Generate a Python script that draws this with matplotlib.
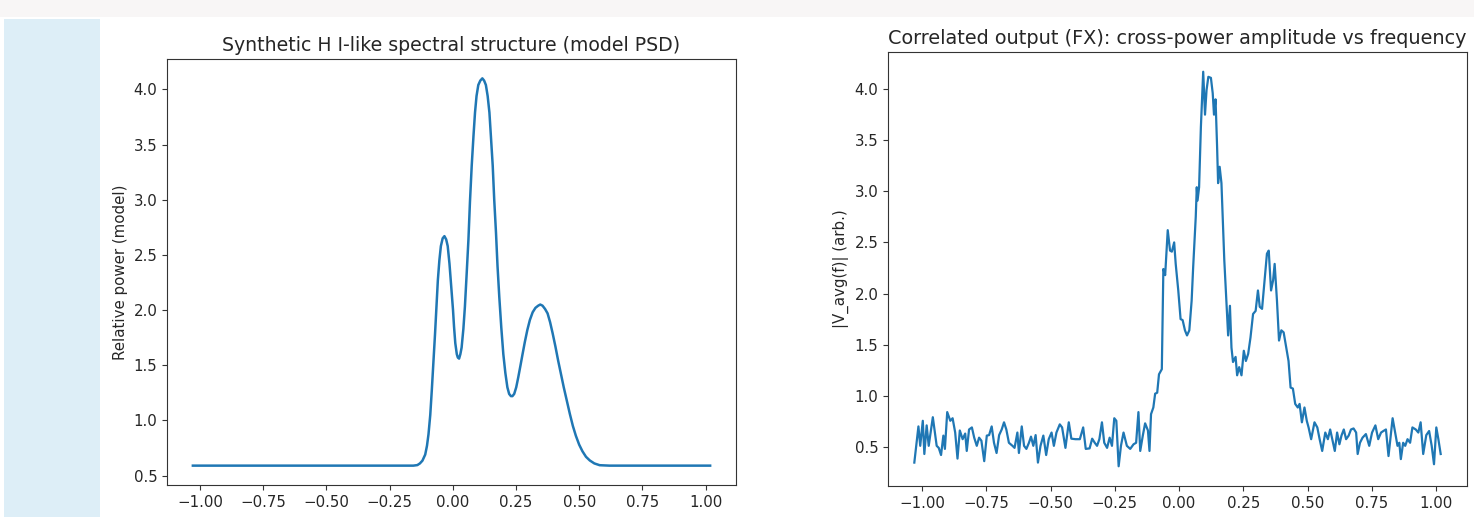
import matplotlib
matplotlib.use("Agg")
import matplotlib.pyplot as plt
from matplotlib.patches import Rectangle

# ---- Left panel: model PSD ----
model_freq = [-1.028, -0.200, -0.156, -0.140, -0.130, -0.120, -0.109, -0.102, -0.096,
              -0.089, -0.083, -0.070, -0.059, -0.053, -0.047, -0.040, -0.033, -0.026,
              -0.020, -0.013, -0.008, 0.001, 0.005, 0.010, 0.016, 0.020, 0.025, 0.030,
              0.035, 0.042, 0.048, 0.055, 0.062, 0.068, 0.075, 0.082, 0.088, 0.094,
              0.101, 0.109, 0.117, 0.124, 0.131, 0.138, 0.145, 0.151, 0.158, 0.164,
              0.171, 0.177, 0.184, 0.192, 0.200, 0.208, 0.216, 0.223, 0.230, 0.236,
              0.243, 0.251, 0.259, 0.268, 0.276, 0.285, 0.295, 0.305, 0.316, 0.327,
              0.338, 0.346, 0.355, 0.365, 0.375, 0.385, 0.395, 0.406, 0.417, 0.428,
              0.439, 0.451, 0.463, 0.475, 0.487, 0.500, 0.513, 0.527, 0.542, 0.560,
              0.581, 0.600, 0.620, 1.018]
model_power = [0.59, 0.59, 0.59, 0.595, 0.61, 0.635, 0.69, 0.77, 0.874,
               1.05, 1.27, 1.79, 2.27, 2.45, 2.58, 2.65, 2.67, 2.64,
               2.58, 2.42, 2.27, 2.00, 1.85, 1.70, 1.60, 1.57, 1.56, 1.60,
               1.66, 1.83, 2.03, 2.33, 2.64, 2.98, 3.31, 3.58, 3.79, 3.94,
               4.04, 4.08, 4.10, 4.08, 4.04, 3.94, 3.79, 3.57, 3.31, 3.00,
               2.70, 2.40, 2.12, 1.84, 1.60, 1.43, 1.30, 1.24, 1.22, 1.22,
               1.24, 1.30, 1.39, 1.50, 1.60, 1.71, 1.82, 1.91, 1.98, 2.02,
               2.04, 2.05, 2.04, 2.01, 1.97, 1.89, 1.79, 1.67, 1.54, 1.42,
               1.30, 1.18, 1.06, 0.95, 0.86, 0.78, 0.72, 0.67, 0.637, 0.61,
               0.594, 0.592, 0.59, 0.59]

# ---- Right panel: correlated output amplitude ----
fx_freq = [
    -1.030, -1.014, -1.007, -0.997, -0.991, -0.982, -0.974, -0.958, -0.943, -0.935,
    -0.926, -0.917, -0.911, -0.902, -0.890, -0.881, -0.871, -0.862, -0.853, -0.842,
    -0.832, -0.826, -0.817, -0.806, -0.797, -0.787, -0.778, -0.769, -0.758, -0.748,
    -0.739, -0.729, -0.720, -0.710, -0.700, -0.690, -0.681, -0.672, -0.662, -0.648,
    -0.640, -0.629, -0.623, -0.612, -0.603, -0.594, -0.584, -0.576, -0.567, -0.558,
    -0.549, -0.539, -0.528, -0.517, -0.507, -0.496, -0.487, -0.477, -0.464, -0.455,
    -0.442, -0.429, -0.419, -0.403, -0.386, -0.373, -0.363, -0.348, -0.338, -0.328,
    -0.319, -0.310, -0.300, -0.291, -0.280, -0.270, -0.261, -0.252, -0.244, -0.235,
    -0.226, -0.216, -0.203, -0.190, -0.177, -0.167, -0.158, -0.151, -0.141, -0.132,
    -0.121, -0.115, -0.109, -0.100, -0.093, -0.085, -0.078, -0.067, -0.061, -0.054,
    -0.044, -0.035, -0.028, -0.019, -0.013, -0.003, 0.006, 0.014, 0.023, 0.031,
    0.040, 0.049, 0.055, 0.065, 0.069, 0.072, 0.078, 0.085, 0.094, 0.101,
    0.107, 0.114, 0.124, 0.131, 0.136, 0.142, 0.148, 0.152, 0.158, 0.165,
    0.176, 0.185, 0.191, 0.198, 0.204, 0.210, 0.220, 0.226, 0.234, 0.243,
    0.252, 0.260, 0.269, 0.278, 0.288, 0.298, 0.307, 0.314, 0.323, 0.333,
    0.342, 0.349, 0.358, 0.366, 0.372, 0.381, 0.389, 0.398, 0.407, 0.417,
    0.426, 0.434, 0.443, 0.452, 0.462, 0.469, 0.478, 0.488, 0.497, 0.504,
    0.514, 0.527, 0.538, 0.547, 0.557, 0.569, 0.579, 0.588, 0.596, 0.606,
    0.615, 0.624, 0.632, 0.641, 0.650, 0.660, 0.669, 0.679, 0.689, 0.695,
    0.704, 0.714, 0.727, 0.740, 0.751, 0.764, 0.775, 0.786, 0.795, 0.805,
    0.815, 0.831, 0.841, 0.850, 0.857, 0.863, 0.872, 0.880, 0.889, 0.899,
    0.908, 0.921, 0.931, 0.940, 0.950, 0.962, 0.973, 0.983, 0.992, 1.001,
    1.009, 1.018]
fx_amp = [
    0.346, 0.70, 0.51, 0.755, 0.43, 0.71, 0.51, 0.79, 0.51, 0.49,
    0.42, 0.61, 0.48, 0.84, 0.755, 0.78, 0.64, 0.385, 0.66, 0.575,
    0.63, 0.46, 0.67, 0.69, 0.59, 0.51, 0.59, 0.56, 0.36, 0.61,
    0.615, 0.70, 0.54, 0.44, 0.615, 0.67, 0.74, 0.67, 0.54, 0.51,
    0.49, 0.64, 0.44, 0.70, 0.51, 0.48, 0.54, 0.60, 0.51, 0.615,
    0.346, 0.51, 0.61, 0.42, 0.575, 0.64, 0.51, 0.64, 0.72, 0.69,
    0.49, 0.74, 0.58, 0.575, 0.575, 0.69, 0.48, 0.485, 0.58, 0.54,
    0.51, 0.575, 0.74, 0.54, 0.49, 0.59, 0.51, 0.78, 0.755, 0.31,
    0.51, 0.64, 0.51, 0.48, 0.525, 0.54, 0.84, 0.46, 0.61, 0.73,
    0.66, 0.46, 0.82, 0.885, 1.02, 1.03, 1.21, 1.26, 2.24, 2.18,
    2.62, 2.42, 2.41, 2.50, 2.29, 2.03, 1.75, 1.74, 1.64, 1.59,
    1.64, 1.93, 2.26, 2.75, 3.04, 2.91, 3.04, 3.63, 4.17, 3.75,
    3.99, 4.12, 4.11, 3.96, 3.75, 3.90, 3.44, 3.08, 3.24, 3.08,
    2.33, 1.88, 1.59, 1.88, 1.47, 1.33, 1.38, 1.20, 1.28, 1.20,
    1.44, 1.34, 1.41, 1.57, 1.80, 1.83, 2.03, 1.87, 1.85, 2.13,
    2.39, 2.42, 2.03, 2.13, 2.29, 1.93, 1.54, 1.64, 1.62, 1.47,
    1.34, 1.08, 1.07, 0.92, 0.885, 0.92, 0.74, 0.885, 0.755, 0.69,
    0.575, 0.74, 0.69, 0.575, 0.46, 0.64, 0.575, 0.67, 0.575, 0.46,
    0.64, 0.525, 0.61, 0.67, 0.575, 0.61, 0.67, 0.68, 0.64, 0.43,
    0.54, 0.59, 0.625, 0.51, 0.64, 0.71, 0.575, 0.64, 0.655, 0.67,
    0.41, 0.78, 0.64, 0.51, 0.54, 0.38, 0.54, 0.51, 0.575, 0.54,
    0.69, 0.67, 0.64, 0.74, 0.43, 0.615, 0.655, 0.51, 0.33, 0.69,
    0.575, 0.43]

left_title = "Synthetic H I-like spectral structure (model PSD)"
left_ylabel = "Relative power (model)"
right_title = "Correlated output (FX): cross-power amplitude vs frequency"
right_ylabel = "|V_avg(f)| (arb.)"
x_ticks = [-1.0, -0.75, -0.5, -0.25, 0.0, 0.25, 0.5, 0.75, 1.0]
y_ticks = [0.5, 1.0, 1.5, 2.0, 2.5, 3.0, 3.5, 4.0]

W, H = 1474, 517
fig = plt.figure(figsize=(W / 100, H / 100), dpi=100)
fig.patch.set_facecolor("white")

# page decorations from the screenshot
fig.patches.append(Rectangle((0, 1 - 17 / H), 1, 17 / H, transform=fig.transFigure,
                             facecolor="#f8f6f6", edgecolor="none", zorder=0))
fig.patches.append(Rectangle((4 / W, 0), 96 / W, 1 - 19 / H, transform=fig.transFigure,
                             facecolor="#ddeef7", edgecolor="none", zorder=0))

def px_axes(x0, y0, x1, y1):
    return fig.add_axes([x0 / W, 1 - y1 / H, (x1 - x0) / W, (y1 - y0) / H])

tick_fs = 10.8
text_color = "#262626"
ax1 = px_axes(167, 59, 736, 485)
ax1.plot(model_freq, model_power, color="#1f77b4", linewidth=1.8)
ax1.set_title(left_title, fontsize=13.6, color=text_color)
ax1.set_ylabel(left_ylabel, fontsize=10.8, color=text_color)

ax2 = px_axes(888, 52, 1467, 486)
ax2.plot(fx_freq, fx_amp, color="#1f77b4", linewidth=1.6)
ax2.set_title(right_title, fontsize=13.9, color=text_color)
ax2.set_ylabel(right_ylabel, fontsize=10.8, color=text_color)

for ax in (ax1, ax2):
    ax.set_xticks(x_ticks)
    ax.set_yticks(y_ticks)
    ax.tick_params(labelsize=tick_fs, labelcolor=text_color, color="#333333")
    for s in ax.spines.values():
        s.set_color("#333333")

fig.savefig("out.png", dpi=100, facecolor=fig.get_facecolor())
